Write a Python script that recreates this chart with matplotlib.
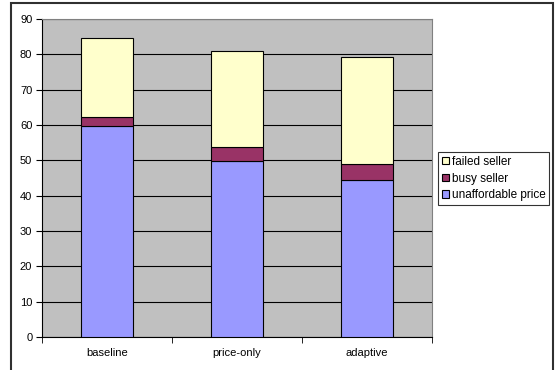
import numpy as np
import matplotlib.pyplot as plt
from matplotlib.patches import Rectangle

plt.rcParams['font.family'] = ['Liberation Sans', 'DejaVu Sans']

categories = ['baseline', 'price-only', 'adaptive']
unaffordable = [59.7, 49.8, 44.5]
busy = [2.7, 4.1, 4.6]
failed = [22.3, 27.1, 30.2]

x = np.arange(len(categories))
unaffordable = np.array(unaffordable)
busy = np.array(busy)
failed = np.array(failed)

fig = plt.figure(figsize=(5.56, 3.70), dpi=100)
ax = fig.add_axes([42/556, 1-337/370, 390/556, 318/370])
ax.set_facecolor('#C0C0C0')

w = 0.40
b1 = ax.bar(x, unaffordable, w, color='#9999FF', edgecolor='black', linewidth=0.8,
            label='unaffordable price', zorder=3)
b2 = ax.bar(x, busy, w, bottom=unaffordable, color='#993366', edgecolor='black',
            linewidth=0.8, label='busy seller', zorder=3)
b3 = ax.bar(x, failed, w, bottom=unaffordable + busy, color='#FFFFCC',
            edgecolor='black', linewidth=0.8, label='failed seller', zorder=3)

ax.set_ylim(0, 90)
ax.set_xlim(-0.5, 2.5)
ax.set_yticks(range(0, 91, 10))
ax.yaxis.grid(True, color='black', linewidth=0.8, zorder=0)
ax.set_axisbelow(True)

ax.set_xticks(x)
ax.set_xticklabels(categories)
ax.set_xticks([-0.5, 0.5, 1.5, 2.5], minor=True)
ax.tick_params(axis='x', which='major', length=0, pad=8, labelsize=8)
ax.tick_params(axis='x', which='minor', length=4, direction='out')
ax.tick_params(axis='y', length=4, direction='out', labelsize=8, pad=3)

ax.spines['left'].set_color('black')
ax.spines['bottom'].set_color('black')
ax.spines['top'].set_color('#808080')
ax.spines['right'].set_color('#808080')

leg = fig.legend(handles=[b3, b2, b1], labels=['failed seller', 'busy seller', 'unaffordable price'],
                 loc='center left', bbox_to_anchor=(438/556, 1-178.5/370),
                 fontsize=8.5, frameon=True, fancybox=False, edgecolor='black',
                 handlelength=0.6, handleheight=0.6, handletextpad=0.25,
                 borderpad=0.3, labelspacing=0.4, borderaxespad=0)
leg.get_frame().set_linewidth(0.8)

# chart area frame
fig.patches.append(Rectangle((11/556, -0.05), 542/556, 1.05 - 3/370,
                             transform=fig.transFigure, fill=False,
                             edgecolor='#303030', linewidth=1.5))

fig.savefig('out.png', dpi=100)
